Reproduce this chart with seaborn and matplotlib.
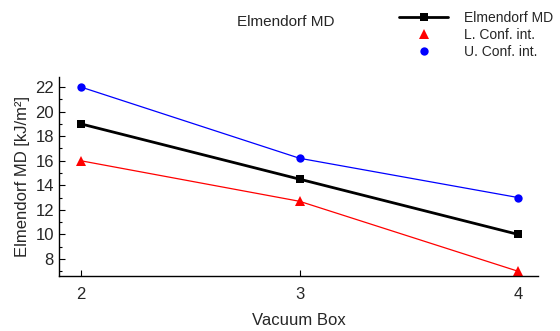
import matplotlib
matplotlib.use("Agg")
import matplotlib.pyplot as plt
from matplotlib.lines import Line2D
from matplotlib.ticker import MultipleLocator
import pandas as pd
import seaborn as sns

vacuum_box = [2, 3, 4]
elmendorf_md = [19.0, 14.5, 10.0]
lower_conf = [16.0, 12.7, 7.0]
upper_conf = [22.0, 16.2, 13.0]

sns.set_style("white")
plt.rcParams['font.family'] = ['Liberation Sans', 'DejaVu Sans']

df = pd.DataFrame({'box': vacuum_box, 'md': elmendorf_md,
                   'lo': lower_conf, 'hi': upper_conf})

fig = plt.figure(figsize=(5.6, 3.31), dpi=100)
ax = fig.add_axes([0.105, 0.166, 0.856, 0.601])

sns.lineplot(data=df, x='box', y='hi', ax=ax, color='blue', lw=0.9,
             marker='o', markersize=6, markeredgewidth=0)
sns.lineplot(data=df, x='box', y='lo', ax=ax, color='red', lw=0.9,
             marker='^', markersize=7, markeredgewidth=0)
sns.lineplot(data=df, x='box', y='md', ax=ax, color='black', lw=2,
             marker='s', markersize=5.5, markeredgewidth=0)

ax.set_xlim(1.9, 4.09)
ax.set_ylim(6.62, 22.8)
ax.set_xticks(vacuum_box)
ax.yaxis.set_major_locator(MultipleLocator(2))
ax.yaxis.set_minor_locator(MultipleLocator(1))
ax.set_yticks(range(8, 23, 2))
ax.tick_params(axis='both', which='major', direction='in', length=4,
               width=0.8, labelsize=12, color='black', left=True, bottom=True)
ax.tick_params(axis='y', which='minor', direction='in', length=2,
               width=0.8, color='black', left=True)
ax.tick_params(axis='x', pad=8)
for s in ['top', 'right']:
    ax.spines[s].set_visible(False)
for s in ['left', 'bottom']:
    ax.spines[s].set_color('black')
    ax.spines[s].set_linewidth(1)

ax.set_xlabel('Vacuum Box', fontsize=12, labelpad=8)
ax.set_ylabel('Elmendorf MD [kJ/m²]', fontsize=12, labelpad=4)
fig.text(0.51, 0.935, 'Elmendorf MD', ha='center', va='center', fontsize=11)

handles = [
    Line2D([], [], color='black', lw=2, marker='s', markersize=5.5, markeredgewidth=0),
    Line2D([], [], color='red', lw=0, marker='^', markersize=7, markeredgewidth=0),
    Line2D([], [], color='blue', lw=0, marker='o', markersize=6, markeredgewidth=0),
]
fig.legend(handles, ['Elmendorf MD', 'L. Conf. int.', 'U. Conf. int.'],
           loc='upper right', bbox_to_anchor=(1.0, 0.989), frameon=False,
           fontsize=10, handlelength=3.5, handletextpad=1.15,
           labelspacing=0.22, borderaxespad=0.1)

fig.savefig('out.png', dpi=100)
